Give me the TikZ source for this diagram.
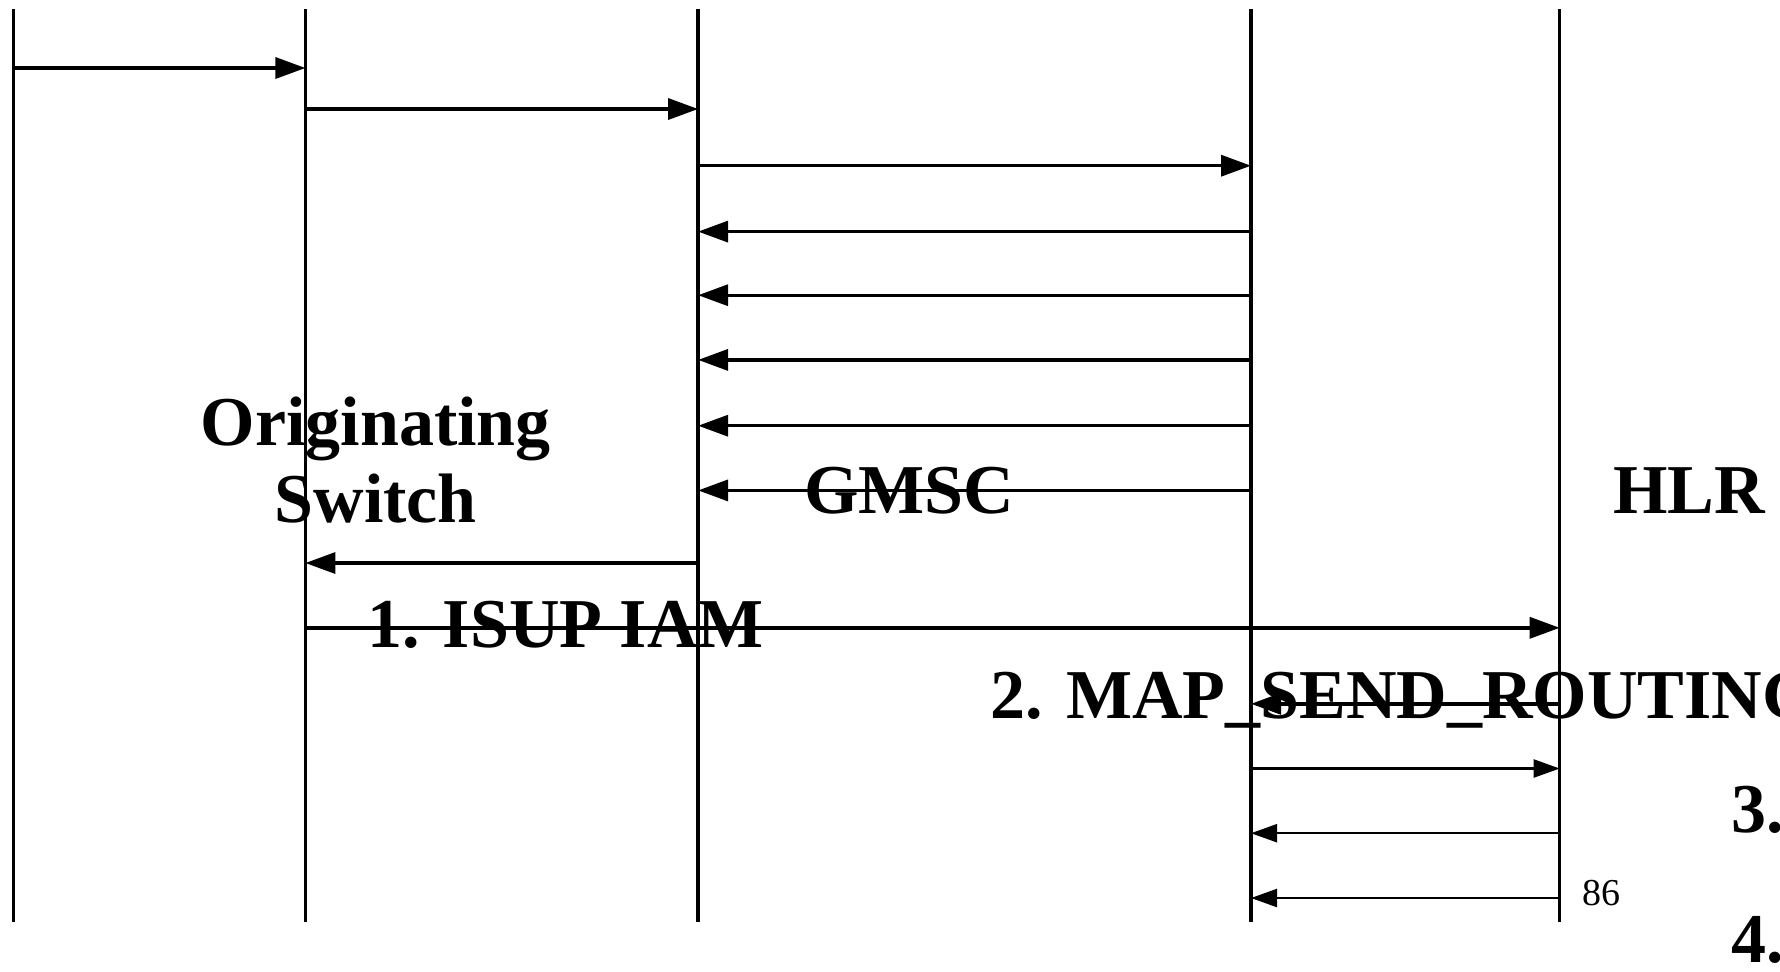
\documentclass[tikz,border=0pt]{standalone}
\usepackage{fontspec}
\setmainfont{Liberation Serif}
\usetikzlibrary{arrows.meta}

\begin{document}
\begin{tikzpicture}[x=0.5pt, y=-0.5pt,
  >={Triangle[length=15pt,width=10.5pt]},
  lifeline/.style={line width=1.7pt},
  msg/.style={line width=1.7pt, ->},
  thinmsg/.style={line width=1.1pt, ->, >={Triangle[length=13pt,width=9pt]}},
  big/.style={font=\fontsize{35}{38.5}\selectfont\bfseries, inner sep=0pt},
]
\useasboundingbox (0,0) rectangle (1780,971);
\clip (0,0) rectangle (1780,971);
% lifelines
\foreach \n/\x in {l1/13.6, l2/305.4, l3/698.1, l4/1251, l5/1559.7} {
  \coordinate (\n) at (\x,9);
  \coordinate (\n b) at (\x,922);
  \draw[lifeline] (\n) -- (\n b);
}
% messages
\draw[msg] (l1 |- 0,68) -- (l2 |- 0,68);
\draw[msg] (l2 |- 0,109) -- (l3 |- 0,109);
\draw[msg] (l3 |- 0,165.7) -- (l4 |- 0,165.7);
\foreach \y in {231.6,295.2,359.9,425.7,490.4}
  \draw[msg] (l4 |- 0,\y) -- (l3 |- 0,\y);
\draw[msg] (l3 |- 0,563) -- (l2 |- 0,563);
\draw[msg] (l2 |- 0,627.8) -- (l5 |- 0,627.8);
\draw[msg] (l5 |- 0,703.8) -- (l4 |- 0,703.8);
\draw[thinmsg] (l4 |- 0,768.5) -- (l5 |- 0,768.5);
\draw[thinmsg] (l5 |- 0,833.2) -- (l4 |- 0,833.2);
\draw[thinmsg] (l5 |- 0,898) -- (l4 |- 0,898);
% labels
\node[big, anchor=base, align=center] (orig) at (375.7,522) {Originating\\Switch};
\node[big, anchor=base] (gmsc) at (909,513) {GMSC};
\node[big, anchor=base] (hlr) at (1689,513) {HLR};
\node[big, anchor=base west] (iam) at (366.7,647) {1. ISUP IAM};
\node[big, anchor=base west] (sri) at (990,718.6) {2. MAP\_SEND\_ROUTING};
\node[big, anchor=base west] (step3) at (1731,832) {3.};
\node[big, anchor=base west] (step4) at (1731,962) {4.};
\node[font=\fontsize{19}{22}\selectfont, anchor=base west, inner sep=0pt] (page) at (1582.5,905) {86};
\end{tikzpicture}
\end{document}
